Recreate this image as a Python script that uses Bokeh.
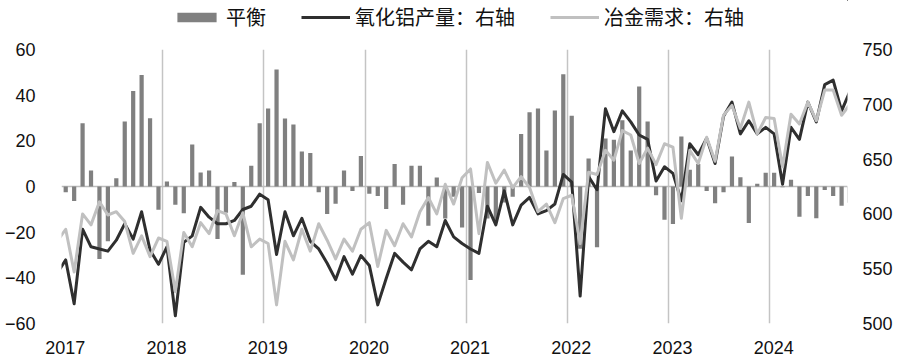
import pandas as pd
from bokeh.plotting import figure
from bokeh.layouts import column
from bokeh.models import (Range1d, LinearAxis, FixedTicker, Span, Legend,
                          LegendItem, ColumnDataSource)
from bokeh.embed import file_html
from bokeh.resources import INLINE

# ---------------- data ----------------
line_months = [d.strftime("%Y-%m") for d in pd.date_range("2016-12-01", periods=95, freq="MS")]
bar_months = line_months[1:]

balance = [
    -2.5, -6.4, 27.7, 7.0, -31.7, -24.0, 3.6, 28.5, 41.8, 48.8, 29.9, -10.2,
    2.2, -8.0, -11.7, 18.4, 6.1, 7.0, -23.0, -11.5, 2.0, -38.7, 9.1, 27.7,
    34.2, 51.2, 29.8, 27.2, 15.3, 14.7, -2.5, -12.0, -7.6, 7.0, -2.0, 13.4,
    -3.2, -4.2, -9.8, 9.9, -8.0, 9.1, 9.1, -17.2, 3.9, -14.0, -4.5, -18.0,
    -40.9, -2.9, -14.0, -15.0, -7.0, -4.5, 23.0, 32.5, 34.2, 15.8, 33.3, 49.2,
    31.0, -27.3, 12.3, -26.6, 21.0, 20.5, 29.0, 15.8, 43.8, 28.5, -3.8, -14.6,
    -16.4, 21.9, 7.3, 9.8, -2.0, -7.3, -2.5, 13.1, 4.0, -16.0, 1.2, 6.0,
    6.0, -0.3, 3.0, -13.3, -4.2, -13.9, -1.5, -4.2, -8.4, -7.1,
]

alumina_output = [
    546,
    558, 518, 586, 570, 568, 566, 576, 591, 577, 602, 567, 554,
    570, 507, 574, 580, 606, 597, 591, 591, 594, 604, 607, 618,
    613, 563, 602, 580, 596, 575, 568, 555, 540, 561, 545, 562,
    553, 517, 541, 564, 556, 549, 568, 575, 570, 594, 579, 573,
    568, 564, 607, 590, 621, 590, 608, 615, 600, 603, 609, 636,
    629, 525, 634, 622, 696, 675, 694, 684, 672, 668, 630, 643,
    637, 612, 664, 654, 669, 646, 689, 702, 673, 685, 673, 679,
    673, 627, 679, 668, 702, 684, 718, 722, 694, 712,
]

met_demand = [
    575,
    586, 547, 600, 590, 611, 599, 602, 593, 564, 580, 561, 578,
    575, 529, 583, 570, 592, 582, 603, 600, 580, 601, 570, 577,
    573, 517, 575, 558, 586, 566, 591, 576, 559, 577, 566, 586,
    592, 552, 585, 571, 591, 579, 602, 615, 600, 627, 609, 633,
    641, 582, 647, 628, 640, 624, 634, 624, 602, 609, 592, 614,
    617, 573, 638, 636, 658, 649, 676, 672, 646, 660, 645, 664,
    661, 596, 658, 646, 670, 648, 690, 699, 678, 702, 673, 688,
    687, 643, 691, 682, 702, 685, 713, 713, 690, 700,
]

year_labels = ["2017", "2018", "2019", "2020", "2021", "2022", "2023", "2024"]
left_ticks = [-60, -40, -20, 0, 20, 40, 60]
right_ticks = [500, 550, 600, 650, 700, 750]

names = ["平衡", "氧化铝产量：右轴", "冶金需求：右轴"]


def month_pos(m):
    y, mo = m.split("-")
    return (int(y) - 2017) * 12 + int(mo) - 1 + 0.5


bar_src = ColumnDataSource(dict(x=[month_pos(m) for m in bar_months], top=balance))
line_src = ColumnDataSource(dict(x=[month_pos(m) for m in line_months],
                                 a=alumina_output, d=met_demand))

FONT = "Liberation Sans"
CJK = "Noto Sans CJK SC"
BAR_C, BLACK_C, LIGHT_C = "#808080", "#2f2f2f", "#c0c0c0"

# ---------------- legend strip (proxies share the data, drawn out of view) ----------------
lf = figure(width=900, height=37, x_range=Range1d(-20, -10), y_range=Range1d(-1000, -900),
            x_axis_type=None, y_axis_type=None,
            output_backend="svg", toolbar_location=None, min_border=0)
lf.grid.visible = False
lf.outline_line_color = None
lb = lf.vbar(x="x", top="top", bottom=0, width=0.5, source=bar_src, fill_color=BAR_C, line_color=None)
lk = lf.line(x="x", y="a", source=line_src, line_color=BLACK_C, line_width=3)
ll = lf.line(x="x", y="d", source=line_src, line_color=LIGHT_C, line_width=3)
legend = Legend(items=[LegendItem(label=names[0], renderers=[lb]),
                       LegendItem(label=names[1], renderers=[lk]),
                       LegendItem(label=names[2], renderers=[ll])],
                orientation="horizontal", location=(111, 6),
                label_text_font=CJK, label_text_font_size="20px",
                label_text_color="#111111",
                glyph_width=49, glyph_height=12, label_standoff=5, spacing=35,
                padding=0, margin=0, border_line_color=None, background_fill_alpha=0)
lf.add_layout(legend)

# ---------------- main chart ----------------
p = figure(width=900, height=327, x_range=Range1d(0, 93.2), y_range=Range1d(-60, 60),
           output_backend="svg", toolbar_location=None,
           min_border_left=61, min_border_right=53, min_border_top=12, min_border_bottom=41)
p.extra_y_ranges = {"right": Range1d(500, 750)}
p.outline_line_color = None
p.background_fill_color = "white"

bars = p.vbar(x="x", top="top", bottom=0, width=0.5, source=bar_src,
              fill_color=BAR_C, line_color=None)
black = p.line(x="x", y="a", source=line_src, y_range_name="right",
               line_color=BLACK_C, line_width=3, line_join="round")
light = p.line(x="x", y="d", source=line_src, y_range_name="right",
               line_color=LIGHT_C, line_width=3, line_join="round")

zero = Span(location=0, dimension="width", line_color="#bdbdbd", line_width=1.5, level="underlay")
p.add_layout(zero)

year_ticks = [i * 12 for i in range(len(year_labels))]
xax = p.xaxis[0]
xax.ticker = FixedTicker(ticks=[t + 0.45 for t in year_ticks])
xax.major_label_overrides = {t + 0.45: lab for t, lab in zip(year_ticks, year_labels)}
p.xgrid.ticker = FixedTicker(ticks=year_ticks)
p.xgrid.grid_line_color = "#c4c4c4"
p.xgrid.grid_line_width = 1.5
p.ygrid.visible = False

yax = p.yaxis[0]
yax.ticker = FixedTicker(ticks=left_ticks)
yax.major_label_overrides = {t: (str(t).replace("-", "\u2212")) for t in left_ticks}

rax = LinearAxis(y_range_name="right", ticker=FixedTicker(ticks=right_ticks))
p.add_layout(rax, "right")

for ax, standoff in ((xax, 17), (yax, 26), (rax, 15)):
    ax.axis_line_color = None
    ax.major_tick_line_color = None
    ax.minor_tick_line_color = None
    ax.major_tick_out = 0
    ax.major_tick_in = 0
    ax.major_label_standoff = standoff
    ax.major_label_text_font = FONT
    ax.major_label_text_font_size = "18px"
    ax.major_label_text_color = "#111111"

layout = column(lf, p, spacing=0)
open("out.html", "w").write(file_html(layout, INLINE))
